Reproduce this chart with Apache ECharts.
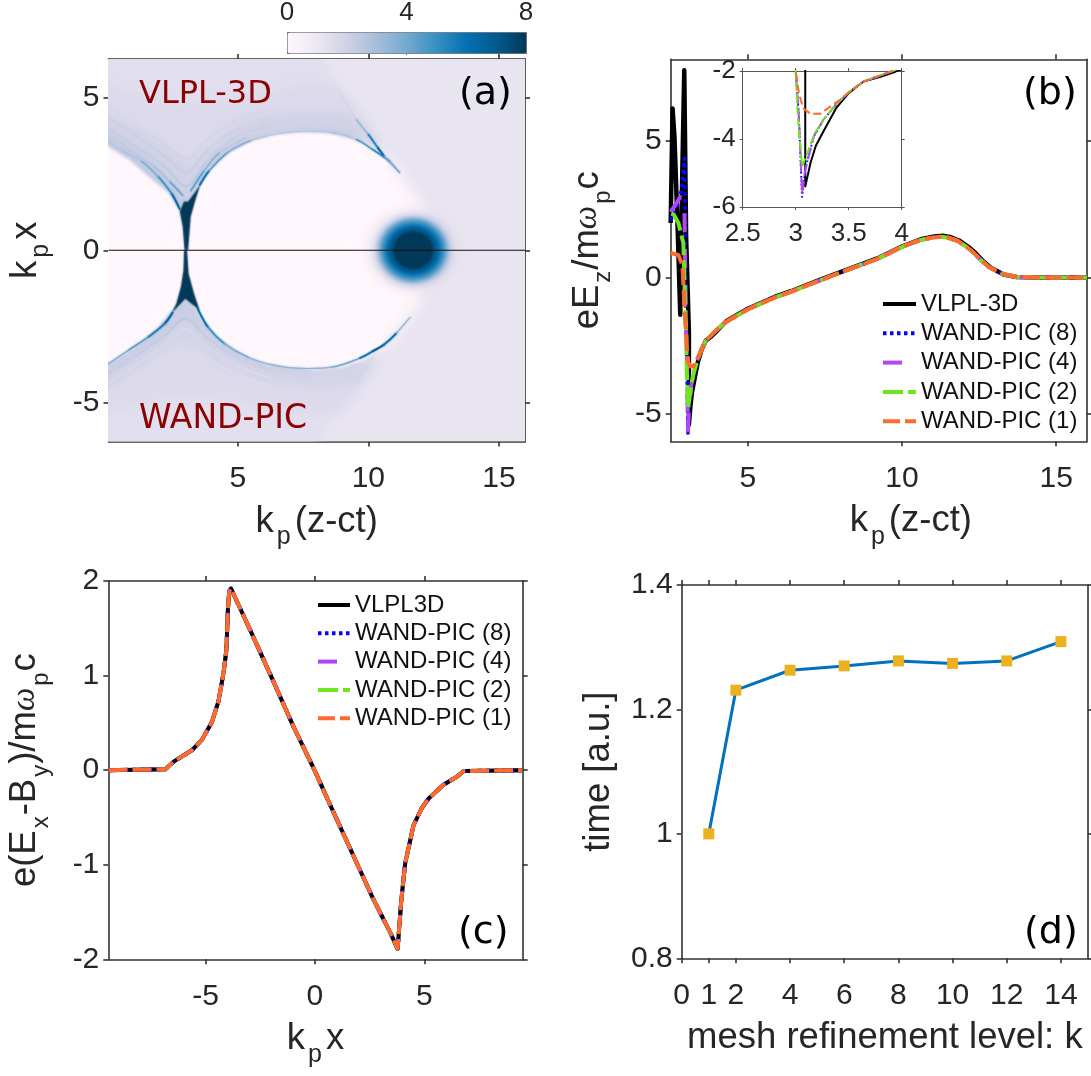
<!DOCTYPE html>
<html><head><meta charset="utf-8">
<style>html,body{margin:0;padding:0;background:#fff}#c{width:1091px;height:1076px}</style>
<script src="https://cdn.jsdelivr.net/npm/echarts@6/dist/echarts.min.js"></script>
</head><body><div id="c"></div>
<script>
// ---------- DATA (all in data units) ----------
const pubuColors = ['#fff7fb','#ece7f2','#d0d1e6','#a6bddb','#74a9cf','#3690c0','#0570b0','#045a8d','#023858'];

// Panel (a): density regions, [x,y] outlines
const aBackground = [[0.05,6.28],[16,6.28],[16,-6.28],[0.05,-6.28]];
const aFanTop1 = [[-3,9],[7,9],[8.15,6.28],[10.4,3.3],[7,3],[3,0.5],[-3,3]];
const aFanTop2 = [[-3,6.4],[0.05,5.4],[2.5,4.8],[5,5.0],[7.5,5.4],[8.8,5.3],[10.3,3.4],[7,3],[3,0.5],[-3,3]];
const aFanTop3 = [[-3,5.2],[0.05,4.4],[1.5,3.8],[2.7,3.1],[3.15,2.8],[3.9,3.4],[5,4.1],[6.5,4.45],[8,4.5],[9.3,4.4],[10.2,3.45],[7,3],[3,0.5],[-3,3]];
const aFanTop4 = [[-3,4.9],[0.05,3.8],[1.5,3.05],[2.6,2.15],[3.05,1.6],[3.55,2.4],[4.4,3.25],[5.8,3.75],[7.7,3.95],[9.4,3.8],[9.4,3],[3,0.5],[-3,3]];
const aFanBot1 = [[-3,-3],[3,-0.5],[7,-3],[10.3,-3.4],[8.1,-6.28],[7,-9],[-3,-9]];
const aFanBot2 = [[-3,-3],[3,-0.5],[7,-3],[10.3,-3.4],[8.8,-5.27],[6,-5.1],[3,-4.8],[0.05,-5.3],[-3,-6.2]];
const aFanBot3 = [[-3,-3],[3,-0.5],[7,-3],[10.0,-3.5],[9.4,-4.4],[6.5,-4.4],[4.5,-3.85],[3,-3.1],[1.5,-3.75],[0.05,-4.55],[-3,-5.4]];
const aFanBot4 = [[-3,-3],[3,-0.5],[7,-3],[8,-3.98],[6.4,-3.95],[4.6,-3.35],[3.05,-2.3],[1.6,-3.2],[0.05,-4.0],[-3,-5]];
const aBubbleMain = [[3.02,0],[3.07,0.56],[3.15,1.22],[3.43,1.98],[3.94,2.64],[4.64,3.19],[5.47,3.57],[6.36,3.79],[7.39,3.88],[8.41,3.85],[9.30,3.68],[10.06,3.42],[10.70,3.0],[10.9,0],[10.57,-3.17],[9.81,-3.61],[8.92,-3.86],[7.9,-3.92],[7.0,-3.86],[6.11,-3.74],[5.09,-3.39],[4.2,-2.84],[3.62,-2.29],[3.28,-1.74],[3.07,-1.2],[3.0,-0.54]];
const aBubbleNose = [[9.5,3.45],[10.7,3.0],[11.21,2.53],[11.72,1.88],[12.17,1.22],[12.35,0],[11.98,-1.63],[11.59,-2.18],[11.08,-2.73],[10.57,-3.17],[9.5,-3.45]];
const aBubbleRear = [[3.02,0],[2.92,0.78],[2.77,1.33],[2.35,1.88],[1.65,2.37],[0.88,2.95],[0.05,3.4],[-3,5],[-3,-5],[0.05,-3.72],[1.01,-3.22],[1.9,-2.57],[2.6,-1.85],[2.9,-1.2],[2.97,-0.54]];
const aCuspTop = [[2.96,0.01],[2.89,0.78],[2.78,1.27],[2.94,1.6],[3.1,1.6],[3.38,1.93],[3.58,2.18],[3.38,1.65],[3.2,1.1],[3.1,0.01]];
const aCuspBot = [[2.94,0],[2.92,-0.66],[2.82,-1.2],[2.65,-1.75],[2.46,-2.08],[2.99,-1.59],[3.54,-1.97],[3.33,-1.43],[3.12,-0.77],[3.06,0]];
const aRegionDensity = [1.14,1.38,1.62,1.95,2.3,1.35,1.58,1.85,2.15,0,0,0,8,8];
const aRegions = [aBackground,aFanTop1,aFanTop2,aFanTop3,aFanTop4,aFanBot1,aFanBot2,aFanBot3,aFanBot4,aBubbleMain,aBubbleNose,aBubbleRear,aCuspTop,aCuspBot];
const aRegionBlur = [0,10,12,9,6,10,12,9,6,3,16,3,1.5,1.5];

// Panel (a): bright sheath curves, [x,y,density]
const aSheathTopR = [[3.55,2.15,7],[3.9,2.6,5],[4.6,3.2,4],[5.5,3.6,3.4],[6.4,3.8,3.1],[7.4,3.9,3],[8.65,3.86,3],[9.55,3.63,3.4],[10.18,3.3,6],[10.83,2.91,4.5],[11.2,2.55,2.2]];
const aSheathTopL = [[2.78,1.35,7],[2.46,1.87,5.5],[1.95,2.42,4.3],[1.31,2.92,3.4],[0.6,3.25,3],[0.05,3.55,2.7]];
const aBandTopL = [[2.9,1.8,5],[2.4,2.25,3.5],[1.8,2.75,3],[1,3.2,2.6],[0.05,3.8,2.4]];
const aBandTopR = [[3.2,1.95,5],[3.7,2.6,4],[4.3,3.2,3.2],[5.3,3.7,2.6]];
const aStreakTop = [[8.15,6.27,1.2],[8.9,5.2,1.8],[9.55,4.29,2.8],[10.0,3.8,4],[10.37,3.36,7],[10.6,3.1,6],[11.2,2.55,2]];
const aSheathBotR = [[3.45,-1.9,7],[3.86,-2.52,5.5],[4.5,-3.07,4.3],[5.39,-3.51,3.6],[6.41,-3.78,3.4],[7.38,-3.88,3.4],[8.65,-3.83,3.5],[9.68,-3.54,4.6],[10.2,-3.3,7],[10.6,-3.1,7],[11.08,-2.72,5],[11.6,-2.2,1.8]];
const aSheathBotL = [[2.5,-2.05,7],[2.2,-2.41,6],[1.57,-2.85,5],[0.8,-3.29,4],[0.05,-3.73,3.5]];
const aStreakBot = [[10.25,-3.44,2.2],[9.5,-4.4,1.7],[8.79,-5.27,1.4]];
const aChevTop1 = [[0.05,4.0,2.6],[1.3,3.3,2.6],[2.2,2.75,2.8],[3.05,2.1,3.2],[3.8,2.9,2.7],[4.9,3.7,2.4],[6.4,4.15,2.2]];
const aChevTop2 = [[0.05,4.35,2.3],[1.3,3.65,2.3],[2.2,3.1,2.4],[3.05,2.55,2.7],[3.8,3.25,2.4],[4.9,3.95,2.2],[6.4,4.4,2]];
const aChevTop3 = [[0.05,4.7,2],[1.3,4.0,2],[2.2,3.5,2.1],[3.05,3.0,2.3],[3.8,3.6,2.1],[4.9,4.25,2],[6.4,4.65,1.8]];
const aChevBot1 = [[0.05,-4.05,2.6],[1.3,-3.35,2.6],[2.2,-2.8,2.8],[3.0,-2.25,3.2],[3.8,-2.85,2.7],[4.9,-3.5,2.4],[6.4,-4.0,2.2]];
const aChevBot2 = [[0.05,-4.4,1.1],[1.3,-3.65,1.1],[2.2,-3.1,1.2],[3.0,-2.6,1.3],[3.8,-3.15,1.2],[4.9,-3.75,1.1],[6.4,-4.25,1.1]];
const aChevBot3 = [[0.05,-4.7,1.15],[1.3,-4.0,1.1],[2.2,-3.45,1.2],[3.0,-3.0,1.3],[3.8,-3.5,1.2],[4.9,-4.05,1.1],[6.4,-4.5,1.15]];
const aCurves = [aChevTop1,aChevTop2,aChevTop3,aChevBot1,aChevBot2,aChevBot3,aBandTopL,aBandTopR,aSheathTopR,aSheathTopL,aStreakTop,aSheathBotR,aSheathBotL,aStreakBot];

// Panel (a): driver beam, radial profile
const aBeamCenter = [11.72,0];
const aBeamRx = [2.03,1.84,1.68,1.57,1.45,1.38,1.3,1.24,1.18,1.11,1.04,0.97,0.9,0.84,0.77,0.7];
const aBeamRy = [1.6,1.45,1.33,1.25,1.15,1.09,1.04,0.99,0.94,0.88,0.82,0.77,0.72,0.67,0.62,0.57];
const aBeamDensity = [1.3,1.6,1.9,2.3,2.8,3.3,3.9,4.4,4.9,5.4,5.9,6.4,6.9,7.3,7.7,8];
const aAxisLine = [[0.05,0],[16,0]];

// Panel (b): eE_z vs k_p(z-ct)
const bCommon = [[3.64,-2.31],[3.8,-2.13],[3.94,-1.97],[4.27,-1.64],[4.97,-1.18],[5.83,-0.75],[6.37,-0.53],[7.39,-0.08],[8.04,0.2],[9.17,0.67],[9.97,1.11],[10.3,1.26],[10.62,1.38],[11.0,1.47],[11.27,1.5],[11.5,1.46],[11.8,1.35],[12.1,1.12],[12.34,0.89],[12.6,0.6],[12.83,0.38],[13.26,0.13],[13.69,0.03],[14.4,0],[16,0]];
const bBlack = [[2.5,2.0],[2.56,6.2],[2.62,5.2],[2.72,2.0],[2.81,-1.36],[2.87,3.5],[2.94,7.6],[3.0,1.5],[3.09,-2],[3.09,-5.4],[3.14,-4.7],[3.19,-4.2],[3.27,-3.73],[3.38,-3.1],[3.5,-2.65],[3.64,-2.31],[3.8,-2.17],[3.94,-2.02],[4.3,-1.6],[5.0,-1.14],[5.87,-0.71],[6.4,-0.5],[7.42,-0.05],[8.07,0.23],[9.2,0.7],[10,1.14],[10.65,1.42],[11.05,1.51],[11.32,1.53],[11.55,1.49],[11.85,1.36],[12.15,1.13],[12.39,0.89],[12.65,0.58],[12.88,0.36],[13.3,0.11],[13.72,0.02],[14.4,0],[16,0]];
const bBlue = [[2.5,2.1],[2.7,2.6],[2.85,3.2],[2.95,4.37],[3.0,-2],[3.03,-3.34],[3.06,-5.7],[3.09,-4.9],[3.17,-3.93],[3.26,-3.44],[3.39,-2.95],[3.51,-2.6]].concat(bCommon);
const bPurple = [[2.5,2.4],[2.81,2.95],[2.94,2.84],[3.0,-2],[3.03,-3.34],[3.06,-5.6],[3.09,-4.9],[3.17,-3.93],[3.26,-3.44],[3.39,-2.95],[3.51,-2.6]].concat(bCommon);
const bGreen = [[2.52,2.35],[2.6,2.3],[2.75,2.0],[2.91,1.26],[3.0,-2],[3.02,-3.34],[3.06,-4.8],[3.1,-4.5],[3.18,-3.83],[3.26,-3.44],[3.39,-2.95],[3.51,-2.6]].concat(bCommon);
const bOrange = [[2.5,0.9],[2.75,0.83],[2.88,0.45],[2.97,-1.6],[3.0,-2],[3.03,-2.65],[3.07,-3.1],[3.14,-3.26],[3.23,-3.26],[3.33,-3.04],[3.44,-2.8],[3.51,-2.6]].concat(bCommon);

// Panel (c): e(E_x-B_y) vs k_p x (all codes coincide)
const cCurve = [[-9.44,0],[-6.84,0.01],[-6.46,0.09],[-5.63,0.21],[-5.17,0.32],[-4.71,0.51],[-4.41,0.73],[-4.18,1.03],[-4.05,1.27],[-3.98,1.7],[-3.92,1.89],[-3.84,1.92],[-3.64,1.82],[-2.96,1.48],[-2.04,1.01],[-0.98,0.46],[0,-0.01],[0.7,-0.37],[1.77,-0.91],[2.68,-1.37],[3.45,-1.72],[3.78,-1.89],[3.87,-1.88],[3.95,-1.37],[4.13,-0.98],[4.36,-0.74],[4.51,-0.58],[4.89,-0.4],[5.2,-0.3],[5.88,-0.155],[6.49,-0.07],[6.8,-0.01],[9.47,0]];

// Panel (d): timing vs mesh refinement level
const dLevels = [1,2,4,6,8,10,12,14];
const dTimes = [1,1.231,1.263,1.27,1.278,1.274,1.278,1.309];
const dTickValues = [0,1,2,4,6,8,10,12,14];
const names = {v3:'VLPL-3D', v3c:'VLPL3D', w8:'WAND-PIC (8)', w4:'WAND-PIC (4)', w2:'WAND-PIC (2)', w1:'WAND-PIC (1)'};

// ---------- STYLE ----------
const FONT='"Liberation Sans",Arial,sans-serif';
const TXT='#262626', AX='#333333';
const TICK=30, LABEL=36.5, OFF=4000;
const C={black:'#000000',blue:'#0505ff',purple:'#b245f5',green:'#72e41f',orange:'#ff6a2f',dline:'#0072bd',dmark:'#edb120'};
const LH=56;
const rich={n:{fontFamily:FONT,fontSize:LABEL,color:TXT,lineHeight:LH,verticalAlign:'middle'},
 s:{fontFamily:FONT,fontSize:25,color:TXT,lineHeight:LH,verticalAlign:'bottom',padding:[0,4,0,3]},
 t:{fontFamily:FONT,fontSize:24,color:TXT,lineHeight:LH,verticalAlign:'bottom',padding:[0,1,0,2]},
 i:{fontFamily:'"Liberation Serif",serif',fontSize:33,fontStyle:'italic',color:TXT,lineHeight:LH,verticalAlign:'middle'}};

const grid=[],xAxis=[],yAxis=[],series=[];
function box(rect,xc,yc,opt){
  opt=opt||{};
  const g=grid.length;
  grid.push({left:rect[0],top:rect[1],width:rect[2],height:rect[3],containLabel:false,show:true,borderWidth:0,backgroundColor:opt.bg||'transparent',z:opt.z||0});
  const lw=opt.lw||1.6, tl=opt.tl||5, fs=opt.fs||TICK, col=opt.ax||AX;
  const axLine={show:true,onZero:false,lineStyle:{color:col,width:lw}};
  const base=(v,pos,label,margin,extra)=>Object.assign({type:'value',gridIndex:g,position:pos,min:v.min,max:v.max,splitLine:{show:false},axisLine:axLine,nameMoveOverlap:false,
     axisTick:{show:true,length:tl,inside:false,customValues:v.ticks,lineStyle:{color:col,width:lw}},
     axisLabel:{show:label,customValues:v.ticks,margin,fontFamily:FONT,fontSize:fs,color:TXT,hideOverlap:false,showMinLabel:true,showMaxLabel:true,formatter:v=>String(v)},z:opt.z||0},extra||{});
  const xi=xAxis.length, yi=yAxis.length;
  const nts=(pad)=>({rich,fontFamily:FONT,fontSize:LABEL,color:TXT,padding:pad||0});
  xAxis.push(base(xc,'bottom',true,opt.mx===undefined?22:opt.mx,xc.name?{name:xc.name,nameLocation:'middle',nameGap:xc.gap,nameTextStyle:nts(xc.pad)}:{}));
  xAxis.push(base(xc,'top',false,8));
  yAxis.push(base(yc,'left',true,opt.my===undefined?9:opt.my,yc.name?{name:yc.name,nameLocation:'middle',nameRotate:90,nameGap:yc.gap,nameTextStyle:nts()}:{}));
  yAxis.push(base(yc,'right',false,8));
  return {xi,yi};
}
function line(ax,name,data,color,width,type,extra){
  series.push(Object.assign({type:'line',name,xAxisIndex:ax.xi,yAxisIndex:ax.yi,data,showSymbol:false,symbol:'none',silent:true,animation:false,clip:false,
     lineStyle:{color,width,type:type||'solid',cap:'butt',join:'round'},itemStyle:{color}},extra||{}));
}

// Panel boxes
const A=box([108.5,59,416.5,382.5],{min:0.05,max:16,ticks:[5,10,15],name:'{n|k}{s|p}{n|(z-ct)}',gap:52},{min:-6.28,max:6.28,ticks:[-5,0,5],name:'{n|k}{s|p}{n|x}',gap:55});
const B=box([670.7,59.3,416.3,382],{min:2.5,max:16,ticks:[5,10,15],name:'{n|k}{s|p}{n|(z-ct)}',gap:52,pad:[0,0,0,64]},{min:-6,max:8,ticks:[-5,0,5],name:'{n|eE}{t|z}{n|/m}{i|ω}{t|p}{n|c}',gap:55});
const C_=box([108.3,581,414.4,378.3],{min:-9.45,max:9.5,ticks:[-5,0,5],name:'{n|k}{s|p}{n|x}',gap:52},{min:-2,max:2,ticks:[-2,-1,0,1,2],name:'{n|e(E}{t|x}{n|-B}{t|y}{n|)/m}{i|ω}{t|p}{n|c}',gap:55});
const D=box([681.7,585,406.3,373.3],{min:0,max:15,ticks:dTickValues,name:'{n|mesh refinement level: k}',gap:52},{min:0.8,max:1.4,ticks:[0.8,1,1.2,1.4],name:'{n|time [a.u.]}',gap:55});
const I=box([742.7,71,159,136],{min:2.5,max:4,ticks:[2.5,3,3.5,4]},{min:-6,max:-2,ticks:[-6,-4,-2]},{bg:'#fff',lw:1,tl:3,fs:26,ax:'#555',mx:14,my:7,z:5});

// Colour-bar tick axis
grid.push({left:287,top:32,width:239,height:21,show:false,containLabel:false});
const cbG=grid.length-1;
xAxis.push({type:'value',gridIndex:cbG,position:'top',min:0,max:8,splitLine:{show:false},axisLine:{show:false},axisTick:{show:true,inside:true,length:2,customValues:[4],lineStyle:{color:'#555'}},axisLabel:{customValues:[0,4,8],margin:8,fontFamily:FONT,fontSize:26,color:TXT,formatter:v=>String(v)}});
yAxis.push({type:'value',gridIndex:cbG,show:false,min:0,max:1});

// Panel (a): density layers, coloured through the visual map
const aIdx=[];
series.push({type:'custom',xAxisIndex:A.xi,yAxisIndex:A.yi,clip:true,animation:false,silent:true,z:1,
  data:aRegions.map((r,i)=>[aRegionDensity[i],i]),
  renderItem:(p,api)=>{const i=api.value(1),c=api.visual('color'),b=aRegionBlur[i];
    const pts=aRegions[i].map(q=>{const u=api.coord(q);return [u[0]-(b?OFF:0),u[1]];});
    return {type:'polygon',shape:{points:pts,smooth:i>=1&&i<=8?0.25:0},
      style:b?{fill:c,shadowBlur:b,shadowColor:c,shadowOffsetX:OFF}:{fill:c}};}});
aIdx.push(series.length-1);
const segs=[];
aCurves.forEach(cv=>{for(let k=0;k<cv.length-1;k++){
  const p0=cv[Math.max(k-1,0)],p1=cv[k],p2=cv[k+1],p3=cv[Math.min(k+2,cv.length-1)];
  segs.push([(p1[2]+p2[2])/2,p0[0],p0[1],p1[0],p1[1],p2[0],p2[1],p3[0],p3[1]]);}});
series.push({type:'custom',xAxisIndex:A.xi,yAxisIndex:A.yi,clip:true,animation:false,silent:true,z:2,data:segs,
  renderItem:(p,api)=>{const d=api.value(0),c=api.visual('color');
    const P=[1,3,5,7].map(j=>api.coord([api.value(j),api.value(j+1)]));
    return {type:'bezierCurve',shape:{x1:P[1][0],y1:P[1][1],x2:P[2][0],y2:P[2][1],
        cpx1:P[1][0]+(P[2][0]-P[0][0])/6,cpy1:P[1][1]+(P[2][1]-P[0][1])/6,
        cpx2:P[2][0]-(P[3][0]-P[1][0])/6,cpy2:P[2][1]-(P[3][1]-P[1][1])/6},
      style:{stroke:c,fill:null,lineWidth:0.4+d*0.2,lineCap:'round',shadowBlur:2,shadowColor:c,opacity:d<3.3?0.55:1}};}});
aIdx.push(series.length-1);
series.push({type:'custom',xAxisIndex:A.xi,yAxisIndex:A.yi,clip:true,animation:false,silent:true,z:3,
  data:aBeamDensity.map((d,i)=>[d,aBeamRx[i],aBeamRy[i]]),
  renderItem:(p,api)=>{const d=api.value(0),c=api.coord(aBeamCenter),s=api.size([api.value(1),api.value(2)]),col=api.visual('color');
    return {type:'ellipse',shape:{cx:c[0]-OFF,cy:c[1],rx:s[0],ry:s[1]},style:{fill:col,shadowBlur:d>=7.7?1:3,shadowColor:col,shadowOffsetX:OFF,opacity:Math.min(1,(d-1)/3.5)}};}});
aIdx.push(series.length-1);
line(A,'axis',aAxisLine,'#111',1.2,'solid',{z:4,clip:true});

// Panel (b)
const bStyles=[[names.v3,bBlack,C.black,4.5,'solid'],[names.w8,bBlue,C.blue,3.5,[3.5,3.5]],[names.w4,bPurple,C.purple,4,[19,17]],[names.w2,bGreen,C.green,4,[20,5]],[names.w1,bOrange,C.orange,4,[17,5]]];
bStyles.forEach(s=>line(B,s[0],s[1],s[2],s[3],s[4]));
// Inset
const iStyles=[[names.v3,bBlack,C.black,2,'solid'],[names.w8,bBlue,C.blue,2,[1.5,2.5]],[names.w4,bPurple,C.purple,2,[12,5]],[names.w2,bGreen,C.green,2,[9,3]],[names.w1,bOrange,C.orange,2,[8,4]]];
iStyles.forEach(s=>line(I,s[0],s[1],s[2],s[3],s[4],{clip:true,z:8}));
// Panel (c)
const cStyles=[[names.w4,C.purple,4,[19,17]],[names.w2,C.green,4,[17,5]],[names.v3c,C.black,4,'solid'],[names.w8,C.blue,4,[4,4]],[names.w1,C.orange,4,[19,5]]];
cStyles.forEach(s=>line(C_,s[0],cCurve,s[1],s[2],s[3]));
// Panel (d)
line(D,'time',dLevels.map((l,i)=>[l,dTimes[i]]),C.dline,3,'solid',{showSymbol:true,symbol:'rect',symbolSize:11,itemStyle:{color:C.dmark}});

const legendBase={orient:'vertical',padding:0,selectedMode:false,itemHeight:14,itemStyle:{opacity:0},lineStyle:{width:4},textStyle:{fontFamily:FONT,fontSize:24,color:'#111',height:24,lineHeight:24}};
const txt=(t,x,y,col,size)=>({type:'text',left:x,top:y,z:50,silent:true,style:{text:t,fill:col,font:size+'px "DejaVu Sans"'}});

const chart=echarts.init(document.getElementById('c'),null,{renderer:'canvas'});
chart.setOption({
  animation:false,backgroundColor:'#fff',grid,xAxis,yAxis,series,
  tooltip:{show:false},
  legend:[
    Object.assign({},legendBase,{left:881,top:292,itemWidth:33,itemGap:5.3,data:[names.v3,names.w8,names.w4,names.w2,names.w1]}),
    Object.assign({},legendBase,{left:316,top:593,itemWidth:32,itemGap:4.3,data:[names.v3c,names.w8,names.w4,names.w2,names.w1]})
  ],
  visualMap:[{type:'continuous',seriesIndex:aIdx,dimension:0,min:0,max:8,orient:'horizontal',left:287,top:32,itemWidth:21,itemHeight:239,
    padding:0,calculable:false,hoverLink:false,text:null,showLabel:false,borderColor:'#666',borderWidth:1,inRange:{color:pubuColors}}],
  graphic:[
    txt('VLPL-3D',139,79,'#8b0000',32),
    txt('WAND-PIC',139,403,'#8b0000',33),
    txt('(a)',459,75,'#000',38),
    txt('(b)',1023,75,'#000',38),
    txt('(c)',458,914,'#000',38),
    txt('(d)',1024,914,'#000',38)
  ]
});
</script></body></html>
